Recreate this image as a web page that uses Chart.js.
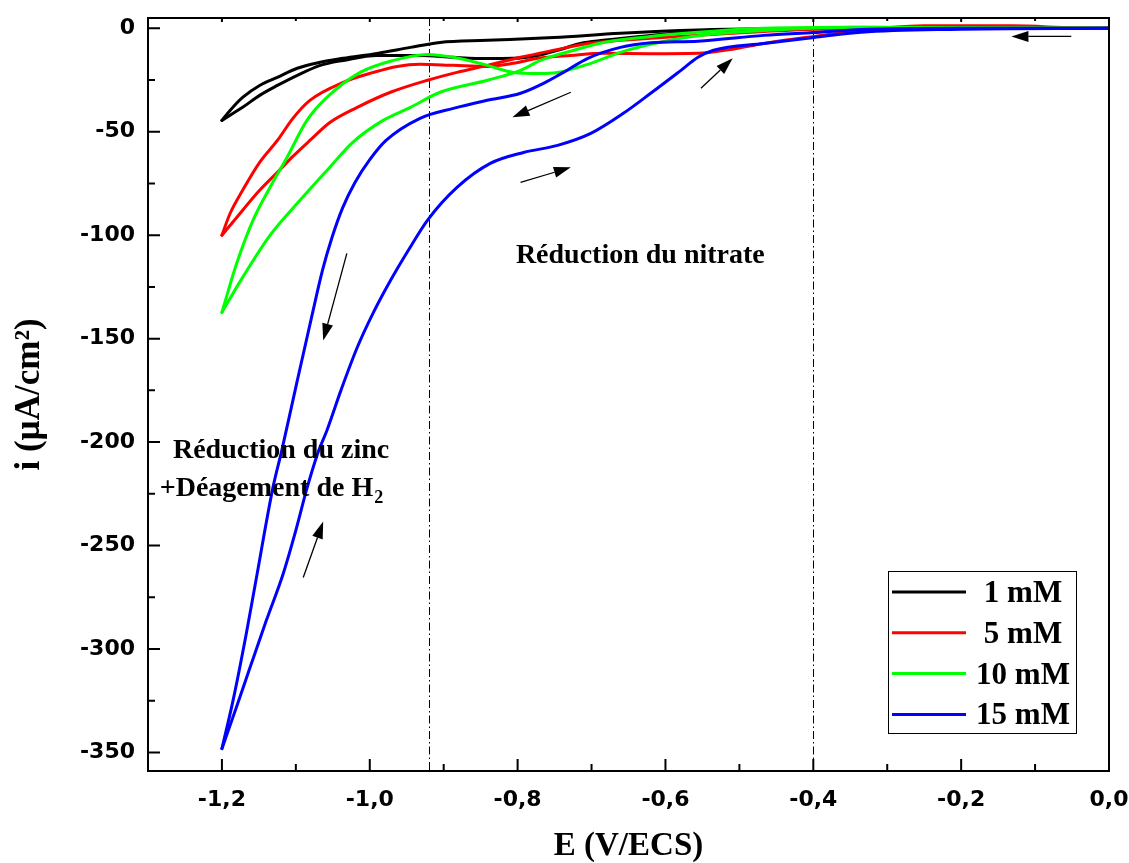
<!DOCTYPE html>
<html>
<head>
<meta charset="utf-8">
<script src="https://cdn.jsdelivr.net/npm/chart.js@4.4.1/dist/chart.umd.min.js"></script>
<style>
  html, body { margin: 0; padding: 0; background: #ffffff; }
  #wrap { width: 1129px; height: 863px; position: relative; }
</style>
</head>
<body>
<div id="wrap"><canvas id="cv" width="1129" height="863"></canvas></div>
<script>
// Voltammogrammes cycliques : E (V/ECS), i (µA/cm²)
// aller : 0 V -> -1,2 V ; retour : -1,2 V -> 0 V

const seriesLabels = ['1 mM', '5 mM', '10 mM', '15 mM'];
const seriesColors = ['#000000', '#ff0000', '#00ff00', '#0000ff'];

const c1_aller = [[0,0],[-0.2,0],[-0.4,-0.2],[-0.467,-0.5],[-0.556,-1.5],[-0.62,-3.4],[-0.684,-5.8],[-0.715,-7.3],[-0.742,-10.2],[-0.773,-13.1],[-0.806,-14.5],[-0.841,-14.6],[-0.887,-14.0],[-0.932,-13.1],[-0.99,-13.1],[-1.036,-15.5],[-1.067,-17.9],[-1.098,-22.7],[-1.125,-27.6],[-1.149,-32.4],[-1.172,-38.2],[-1.189,-42.0],[-1.2,-44.5]];
const c1_retour = [[-1.2,-44.5],[-1.189,-39.7],[-1.172,-33.4],[-1.149,-27.6],[-1.125,-23.7],[-1.098,-19.3],[-1.067,-16.4],[-1.036,-14.5],[-0.99,-12.1],[-0.945,-9.2],[-0.905,-6.8],[-0.841,-5.8],[-0.751,-4.4],[-0.661,-2.4],[-0.556,-0.8],[-0.467,-0.2],[-0.3,0],[0,0]];

const c5_aller = [[0,0],[-0.05,0.3],[-0.13,1.2],[-0.25,1.3],[-0.3,0.3],[-0.335,-1.0],[-0.399,-3.9],[-0.467,-7.3],[-0.512,-10.2],[-0.556,-12.1],[-0.62,-12.3],[-0.684,-12.1],[-0.728,-13.1],[-0.773,-14.5],[-0.806,-16.9],[-0.841,-18.4],[-0.887,-17.9],[-0.932,-17.4],[-0.963,-18.4],[-0.995,-21.3],[-1.036,-26.1],[-1.081,-34.8],[-1.104,-43.5],[-1.125,-54.2],[-1.149,-64.8],[-1.172,-78.3],[-1.189,-89.5],[-1.2,-100]];
const c5_retour = [[-1.2,-100],[-1.18,-91.4],[-1.149,-78.3],[-1.125,-69.6],[-1.104,-61.9],[-1.081,-54.2],[-1.054,-45.5],[-1.017,-38.2],[-0.972,-30.9],[-0.922,-25.1],[-0.882,-21.3],[-0.841,-17.9],[-0.796,-14.0],[-0.751,-10.6],[-0.705,-7.3],[-0.661,-5.8],[-0.62,-4.8],[-0.556,-3.4],[-0.467,-1.5],[-0.335,0],[0,0]];

const c10_aller = [[0,0],[-0.2,0.3],[-0.35,0.5],[-0.44,-0.5],[-0.525,-2.4],[-0.579,-4.8],[-0.62,-7.7],[-0.661,-11.6],[-0.701,-16.9],[-0.746,-21.3],[-0.773,-21.8],[-0.806,-21.3],[-0.841,-17.9],[-0.887,-14.0],[-0.922,-12.6],[-0.968,-15.5],[-1.013,-21.3],[-1.058,-33.4],[-1.085,-44.5],[-1.112,-62.4],[-1.135,-76.9],[-1.158,-92.8],[-1.18,-113.6],[-1.2,-137.3]];
const c10_retour = [[-1.2,-137.3],[-1.172,-120.4],[-1.135,-100.1],[-1.098,-84.6],[-1.058,-68.7],[-1.023,-55.1],[-0.982,-44.5],[-0.945,-38.2],[-0.905,-30.9],[-0.841,-25.1],[-0.796,-20.3],[-0.769,-15.5],[-0.724,-10.6],[-0.684,-6.8],[-0.62,-3.9],[-0.556,-1.9],[-0.467,0],[-0.335,0.5],[0,0]];

const c15_aller = [[0,0],[-0.2,0],[-0.335,-0.6],[-0.4,-2.0],[-0.467,-3.4],[-0.556,-6.2],[-0.62,-7.0],[-0.661,-9.2],[-0.705,-14.5],[-0.738,-21.3],[-0.765,-26.6],[-0.796,-31.4],[-0.841,-34.8],[-0.887,-38.7],[-0.932,-43.5],[-0.978,-54.2],[-1.0,-63.5],[-1.02,-74.5],[-1.037,-87.0],[-1.051,-101.0],[-1.064,-117],[-1.078,-138.5],[-1.098,-170.2],[-1.119,-204],[-1.131,-222],[-1.154,-266.9],[-1.167,-292.5],[-1.185,-325],[-1.2,-348.2]];
const c15_retour = [[-1.2,-348.2],[-1.181,-328.8],[-1.162,-309],[-1.14,-286.3],[-1.117,-263.5],[-1.1,-242.7],[-1.085,-222.4],[-1.07,-205],[-1.058,-194.4],[-1.039,-175],[-1.017,-154.3],[-0.995,-137.3],[-0.972,-121.9],[-0.948,-107.4],[-0.922,-92.8],[-0.882,-76.9],[-0.837,-65.3],[-0.792,-60],[-0.746,-56.6],[-0.701,-50.8],[-0.657,-41.1],[-0.62,-31.4],[-0.579,-20.3],[-0.556,-14],[-0.535,-10.6],[-0.467,-7.3],[-0.399,-4.4],[-0.335,-1.9],[-0.214,-0.5],[0,0]];

const E_TICKS = [-1.2, -1.0, -0.8, -0.6, -0.4, -0.2, 0.0];
const E_TICK_LABELS = ['-1,2', '-1,0', '-0,8', '-0,6', '-0,4', '-0,2', '0,0'];
const E_MINOR = [-1.1, -0.9, -0.7, -0.5, -0.3, -0.1];
const I_TICKS = [0, -50, -100, -150, -200, -250, -300, -350];
const I_TICK_LABELS = ['0', '-50', '-100', '-150', '-200', '-250', '-300', '-350'];
const I_MINOR = [-25, -75, -125, -175, -225, -275, -325];

// potentials of the two dash-dot separators
const GUIDE_E = [-0.92, -0.40];

// scan-direction arrows: [E tail, i tail, E head, i head]
const ARROWS = [
  [-0.051, -3.9, -0.132, -3.9],
  [-0.728, -30.9, -0.807, -43.0],
  [-0.552, -29.0, -0.509, -14.5],
  [-0.796, -74.5, -0.728, -67.2],
  [-1.031, -108.8, -1.063, -150.9],
  [-1.090, -265.5, -1.063, -238.4]
];

const SERIF = "'Liberation Serif', 'Times New Roman', serif";
const SANS = "'DejaVu Sans', Arial, sans-serif";

function toXY(pairs) { return pairs.map(p => ({ x: p[0], y: p[1] })); }

// each sweep direction is its own smooth line so the vertex at -1,2 V stays sharp
const branches = [
  [c1_aller, c1_retour],
  [c5_aller, c5_retour],
  [c10_aller, c10_retour],
  [c15_aller, c15_retour]
];
const datasets = [];
branches.forEach((pair, k) => {
  pair.forEach((pts, j) => {
    datasets.push({
      label: seriesLabels[k],
      data: toXY(pts),
      showLine: true,
      borderColor: seriesColors[k],
      backgroundColor: seriesColors[k],
      borderWidth: 3,
      pointRadius: 0,
      cubicInterpolationMode: 'monotone',
      borderJoinStyle: 'round',
      borderCapStyle: 'round',
      order: 8 - (2 * k + j)
    });
  });
});

function drawArrow(ctx, x1, y1, x2, y2) {
  const ang = Math.atan2(y2 - y1, x2 - x1);
  const L = 17, W = 5.5;
  const bx = x2 - L * Math.cos(ang), by = y2 - L * Math.sin(ang);
  ctx.lineWidth = 1.3;
  ctx.beginPath(); ctx.moveTo(x1, y1); ctx.lineTo(bx, by); ctx.stroke();
  ctx.beginPath();
  ctx.moveTo(x2, y2);
  ctx.lineTo(bx - W * Math.sin(ang), by + W * Math.cos(ang));
  ctx.lineTo(bx + W * Math.sin(ang), by - W * Math.cos(ang));
  ctx.closePath(); ctx.fill();
}

const decorations = {
  id: 'decorations',
  beforeDatasetsDraw(chart) {
    const { ctx, chartArea: a, scales: { x } } = chart;
    ctx.save();
    ctx.strokeStyle = '#000'; ctx.lineWidth = 1;
    ctx.setLineDash([8, 3, 1.5, 3]);
    GUIDE_E.forEach(v => {
      const px = Math.round(x.getPixelForValue(v)) + 0.5;
      ctx.beginPath(); ctx.moveTo(px, a.top); ctx.lineTo(px, a.bottom); ctx.stroke();
    });
    ctx.restore();
  },
  afterDatasetsDraw(chart) {
    const { ctx, chartArea: a, scales: { x, y } } = chart;
    ctx.save();
    ctx.strokeStyle = '#000'; ctx.fillStyle = '#000';

    // frame
    ctx.lineWidth = 2;
    ctx.strokeRect(a.left, a.top, a.right - a.left, a.bottom - a.top);

    // inward tick marks
    ctx.lineWidth = 2;
    ctx.beginPath();
    E_TICKS.forEach(v => { const p = x.getPixelForValue(v); ctx.moveTo(p, a.bottom); ctx.lineTo(p, a.bottom - 12); ctx.moveTo(p, a.top); ctx.lineTo(p, a.top + 4); });
    E_MINOR.forEach(v => { const p = x.getPixelForValue(v); ctx.moveTo(p, a.bottom); ctx.lineTo(p, a.bottom - 7); ctx.moveTo(p, a.top); ctx.lineTo(p, a.top + 3); });
    I_TICKS.forEach(v => { const p = y.getPixelForValue(v); ctx.moveTo(a.left, p); ctx.lineTo(a.left + 12, p); });
    I_MINOR.forEach(v => { const p = y.getPixelForValue(v); ctx.moveTo(a.left, p); ctx.lineTo(a.left + 7, p); });
    ctx.stroke();

    // scan-direction arrows
    ARROWS.forEach(r => drawArrow(ctx, x.getPixelForValue(r[0]), y.getPixelForValue(r[1]), x.getPixelForValue(r[2]), y.getPixelForValue(r[3])));

    // region labels
    ctx.textBaseline = 'middle';
    ctx.textAlign = 'center';
    ctx.font = 'bold 28px ' + SERIF;
    ctx.fillText('Réduction du nitrate', x.getPixelForValue(-0.634), y.getPixelForValue(-109.8));
    ctx.fillText('Réduction du zinc', x.getPixelForValue(-1.120), y.getPixelForValue(-204.1));
    const main = '+Déagement de H';
    const cx = x.getPixelForValue(-1.133), cy = y.getPixelForValue(-222.4);
    const w1 = ctx.measureText(main).width;
    ctx.font = 'bold 18px ' + SERIF;
    const w2 = ctx.measureText('2').width;
    const sx = cx - (w1 + w2 + 1) / 2;
    ctx.textAlign = 'left';
    ctx.font = 'bold 28px ' + SERIF;
    ctx.fillText(main, sx, cy);
    ctx.font = 'bold 18px ' + SERIF;
    ctx.fillText('2', sx + w1 + 1, cy + 10);

    // legend box
    const bx = a.right - 33 - 188, by = a.bottom - 38 - 162;
    ctx.lineWidth = 1;
    ctx.strokeRect(Math.round(bx) + 0.5, Math.round(by) + 0.5, 188, 162);
    ctx.font = 'bold 31px ' + SERIF;
    ctx.textAlign = 'center';
    seriesLabels.forEach((lab, k) => {
      const ry = by + 21 + k * 40.8;
      ctx.strokeStyle = seriesColors[k]; ctx.lineWidth = 3;
      ctx.beginPath(); ctx.moveTo(bx + 4, ry); ctx.lineTo(bx + 78, ry); ctx.stroke();
      ctx.fillStyle = '#000';
      ctx.fillText(lab, bx + 135, ry + 2);
    });
    ctx.restore();
  }
};

new Chart(document.getElementById('cv'), {
  type: 'scatter',
  data: { datasets },
  options: {
    responsive: false,
    animation: false,
    devicePixelRatio: 1,
    layout: { padding: { left: 0, top: 18, right: 20, bottom: 0 } },
    plugins: { legend: { display: false }, tooltip: { enabled: false } },
    scales: {
      x: {
        type: 'linear', min: -1.3, max: 0,
        grid: { display: false, drawTicks: false },
        border: { display: false },
        afterBuildTicks: s => { s.ticks = E_TICKS.map(v => ({ value: v })); },
        afterFit: s => { s.height = 92; s.paddingLeft = 0; s.paddingRight = 0; },
        ticks: {
          autoSkip: false, maxRotation: 0, padding: 16, color: '#000',
          font: { family: SANS, size: 22, weight: 'bold' },
          callback: (v, i) => E_TICK_LABELS[i]
        },
        title: {
          display: true, text: 'E (V/ECS)', color: '#000',
          font: { family: SERIF, size: 33, weight: 'bold', lineHeight: 1 },
          padding: { top: 0, bottom: 0 }
        }
      },
      y: {
        type: 'linear', min: -359, max: 5,
        grid: { display: false, drawTicks: false },
        border: { display: false },
        afterBuildTicks: s => { s.ticks = I_TICKS.map(v => ({ value: v })); },
        afterFit: s => { s.width = 148; s.paddingTop = 0; s.paddingBottom = 0; },
        ticks: {
          autoSkip: false, padding: 13, color: '#000',
          font: { family: SANS, size: 22, weight: 'bold' },
          callback: (v, i) => I_TICK_LABELS[i]
        },
        title: {
          display: true, text: 'i (µA/cm²)', color: '#000',
          font: { family: SERIF, size: 35, weight: 'bold', lineHeight: 1 },
          padding: { top: 12, bottom: 0 }
        }
      }
    }
  },
  plugins: [decorations]
});
</script>
</body>
</html>
